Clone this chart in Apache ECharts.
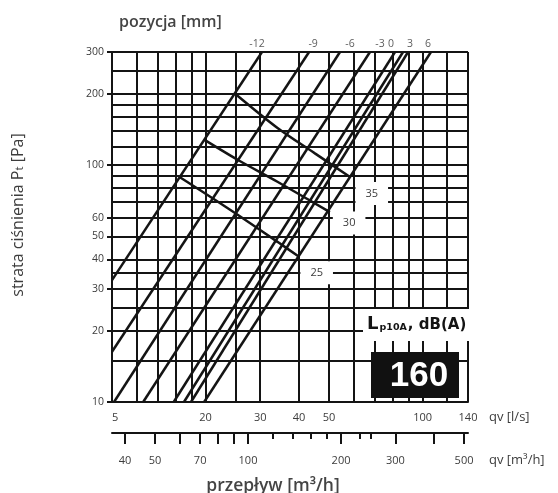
<!DOCTYPE html>
<html><head><meta charset="utf-8">
<script src="https://cdn.jsdelivr.net/npm/echarts@6/dist/echarts.min.js"></script>
<style>html,body{margin:0;padding:0;background:#fff}#c{width:558px;height:493px}</style>
</head><body><div id="c"></div>
<script>
// ---- data ----
const xGridLs = [10,12,14,16,18,20,25,30,40,50,60,70,80,90,100,120,140];
const yGridPa = [10,15,20,25,30,35,40,50,60,70,80,90,100,120,140,160,180,200,250,300];
const xTickValues = [10,20,30,40,50,100,140];
const xTickLabels = ['5','20','30','40','50','100','140'];
const yTickValues = [10,20,30,40,50,60,100,200,300];
const m3hLongTicks = [40,50,60,70,80,90,100,200,300,400,500];
const m3hShortTicks = [120,140,160,180,230,250];
const m3hLabels = [40,50,70,100,200,300,500];
const positionNames = ['-12','-9','-6','-3','0','3','6'];
const positionLabelQ = [29.3,44.4,58.4,72.9,79.1,91.1,104.1];
// position lines: [qv l/s, Pa]
const line1 = [[10,32.7],[30.4,300]];
const line2 = [[10,16.3],[43.1,300]];
const line3 = [[10.15,10],[54.2,300]];
const line4 = [[12.6,10],[67.7,300]];
const line5 = [[15.8,10],[81.5,300]];
const line6 = [[17.05,10],[86.5,300]];
const line7 = [[17.96,10],[89.8,300]];
const line8 = [[19.8,10],[106.4,300]];
// sound level curves
const curve35 = [[24.8,201],[34.2,143],[45.0,112],[58.4,89]];
const curve30 = [[19.8,128],[25.45,105],[34.2,84.8],[50.3,63.3]];
const curve25 = [[16.5,89],[21.5,71.2],[25.45,61.5],[34.2,47.3],[39.7,41.3]];
const dbLabels = [[68.6,75.9,'35'],[58.0,57.0,'30'],[45.6,35.1,'25']];
const sizeLabel = '160';

// ---- chart ----
const FONT = '"Open Sans", "Noto Sans", sans-serif';
const BOLD = '"DejaVu Sans", "Liberation Sans", sans-serif';
const INK = '#141414';
const TXT = '#3c3c3c';
const chart = echarts.init(document.getElementById('c'), null, {renderer:'canvas'});

function nearestLabel(v, vals, labels){
  let bi = 0, bd = Infinity;
  vals.forEach((x,i)=>{const d=Math.abs(Math.log(x)-Math.log(v)); if(d<bd){bd=d;bi=i;}});
  return labels[bi];
}

const posLines = [line1,line2,line3,line4,line5,line6,line7,line8].map((d,i)=>({
  type:'line', name:'pos'+i, data:d, symbol:'none', z:3, silent:true,
  lineStyle:{color:INK, width:2.5}, animation:false
}));
const curves = [curve35,curve30,curve25].map((d,i)=>({
  type:'line', name:'db'+i, data:d, symbol:'none', smooth:0.3, z:3, silent:true,
  lineStyle:{color:INK, width:2.5}, animation:false
}));

const option = {
  animation:false,
  title:{text:'pozycja [mm]', left:114, top:9,
    textStyle:{fontFamily:FONT, fontSize:16, fontWeight:600, color:'#444'}},
  grid:{left:112, right:90, top:52, bottom:91, outerBoundsMode:'none', containLabel:false},
  xAxis:[
    {type:'log', min:10, max:140, position:'bottom',
     axisLine:{show:true, lineStyle:{color:INK, width:2}},
     axisTick:{show:false}, splitLine:{show:false}, minorTick:{show:false},
     axisLabel:{customValues:xTickValues, margin:10, fontFamily:FONT, fontSize:11, color:TXT,
       alignMinLabel:'left',
       formatter:v=>nearestLabel(v,xTickValues,xTickLabels)},
     name:'qv [l/s]', nameLocation:'end', nameGap:21,
     nameTextStyle:{fontFamily:FONT, fontSize:13, color:TXT, verticalAlign:'top', padding:[9,0,0,0]}
    },
    {type:'log', min:36.3, max:515, position:'bottom', offset:31,
     axisLine:{show:true, lineStyle:{color:INK, width:2}},
     axisTick:{show:true, inside:false, length:11, customValues:m3hLongTicks, lineStyle:{color:INK, width:2}},
     splitLine:{show:false},
     axisLabel:{customValues:m3hLabels, margin:22, fontFamily:FONT, fontSize:11, color:TXT,
       formatter:v=>String(Math.round(v))},
     name:'qv [m³/h]', nameLocation:'end', nameGap:21,
     nameTextStyle:{fontFamily:FONT, fontSize:13, color:TXT, verticalAlign:'top', padding:[21,0,0,0]}
    },
    {type:'log', min:36.3, max:515, position:'bottom', offset:31,
     axisLine:{show:false},
     axisTick:{show:true, inside:false, length:6, customValues:m3hShortTicks, lineStyle:{color:INK, width:2}},
     splitLine:{show:false},
     axisLabel:{show:false},
     name:'przepływ [m³/h]', nameLocation:'middle', nameGap:44,
     nameTextStyle:{fontFamily:FONT, fontSize:17.5, fontWeight:600, color:'#444', padding:[0,34,0,0]}
    }
  ],
  yAxis:{type:'log', min:10, max:300,
    axisLine:{show:true, lineStyle:{color:INK, width:2}},
    axisTick:{show:true, inside:false, length:5, customValues:yTickValues, lineStyle:{color:INK, width:2}},
    splitLine:{show:false}, minorTick:{show:false},
    axisLabel:{customValues:yTickValues, margin:8, fontFamily:FONT, fontSize:10.5, color:TXT,
      formatter:v=>String(Math.round(v))},
    name:'strata ciśnienia P{t|t} [Pa]', nameLocation:'middle', nameGap:86, nameRotate:90,
    nameTextStyle:{fontFamily:FONT, fontSize:16, color:TXT, padding:[0,0,0,24],
      rich:{t:{fontFamily:FONT, fontSize:11.5, color:TXT, verticalAlign:'bottom'}}}
  },
  series:[
    {type:'line', name:'grid', data:[], z:1, silent:true, animation:false,
     markLine:{silent:true, symbol:['none','none'], animation:false,
       label:{show:false},
       lineStyle:{color:INK, width:2, type:'solid'},
       emphasis:{disabled:true},
       data:[...xGridLs.map(v=>({xAxis:v})), ...yGridPa.map(v=>({yAxis:v}))]}
    },
    ...posLines,
    ...curves,
    {type:'scatter', name:'dbLabels', data:dbLabels, symbolSize:1, z:6, silent:true,
     itemStyle:{color:'#ffffff', opacity:1},
     emphasis:{disabled:true},
     label:{show:true, position:'inside', formatter:p=>p.data[2], opacity:1,
       fontFamily:FONT, fontSize:11, color:TXT, backgroundColor:'#ffffff', padding:[6,10],
       textBorderWidth:0}},
    {type:'scatter', name:'posLabels', data:positionLabelQ.map((q,i)=>[q,300,positionNames[i]]),
     symbolSize:0, z:6, silent:true, clip:false,
     label:{show:true, position:'top', distance:2, formatter:p=>p.data[2],
       fontFamily:FONT, fontSize:10.5, color:'#333'}}
  ],
  graphic:[
    {type:'rect', z:100, shape:{x:363, y:309, width:108, height:32}, style:{fill:'#fff'}},
    {type:'text', z:101, left:367, top:315,
     style:{text:'{L|L}{s|p10A}{n|, dB(A)}', rich:{
       L:{fontFamily:BOLD, fontSize:18, fontWeight:'bold', fill:INK, verticalAlign:'bottom'},
       s:{fontFamily:BOLD, fontSize:9.5, fontWeight:'bold', fill:INK, verticalAlign:'bottom', padding:[0,1,0,1]},
       n:{fontFamily:BOLD, fontSize:15, fontWeight:'bold', fill:INK, verticalAlign:'bottom'}
     }}},
    {type:'rect', z:100, shape:{x:371, y:352, width:88, height:46}, style:{fill:'#111'}},
    {type:'text', z:101, x:419, y:376,
     style:{text:sizeLabel, fill:'#fff', fontFamily:'"Liberation Sans", Arial, sans-serif', fontSize:35, fontWeight:'bold',
       align:'center', verticalAlign:'middle'}}
  ]
};
chart.setOption(option);
</script></body></html>
